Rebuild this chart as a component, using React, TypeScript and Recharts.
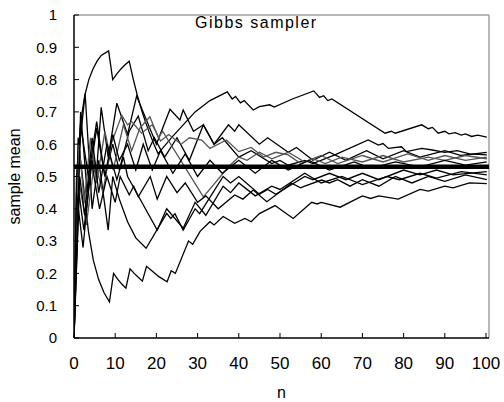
import React from 'react';
import { LineChart, Line, XAxis, YAxis, Label, CartesianGrid } from 'recharts';

type P = [number, number];

const xTicks = [0, 10, 20, 30, 40, 50, 60, 70, 80, 90, 100];
const yTicks = [0, 0.1, 0.2, 0.3, 0.4, 0.5, 0.6, 0.7, 0.8, 0.9, 1];
const yTickLabels = ['0', '0.1', '0.2', '0.3', '0.4', '0.5', '0.6', '0.7', '0.8', '0.9', '1'];
const xMax = 100.73;
const trueMean = 0.53;
const titleText = 'Gibbs sampler';
const xTitle = 'n';
const yTitle = 'sample mean';

const run1: P[] = [[0,0],[0.6,0.5],[1.6,0.667],[2.6,0.75],[3.6,0.8],[4.6,0.833],[5.6,0.857],[6.6,0.875],[8.4,0.889],[9.4,0.8],[10.4,0.818],[11.4,0.833],[12.4,0.846],[13.4,0.857],[14.4,0.8],[15.4,0.75],[16.4,0.706],[17.4,0.667],[18.4,0.632],[19.4,0.6],[20.4,0.571],[24,0.625],[29.4,0.7],[33,0.735],[37.2,0.762],[38.4,0.74],[39.2,0.748],[40.4,0.728],[41.3,0.735],[43.5,0.706],[45,0.716],[47.5,0.722],[48.6,0.715],[53,0.74],[58.2,0.765],[59.6,0.745],[60.6,0.75],[61.6,0.735],[62.6,0.74],[75.5,0.634],[77,0.64],[78,0.634],[84.4,0.66],[86,0.648],[87,0.652],[88.4,0.634],[90,0.64],[91,0.632],[92.5,0.636],[94,0.628],[95,0.632],[96.5,0.624],[98,0.628],[100.2,0.622]];
const run2: P[] = [[0,0],[1,0.62],[1.6,0.55],[2.4,0.46],[3.5,0.33],[4.7,0.24],[6,0.18],[7.3,0.14],[8.6,0.112],[9.6,0.2],[10.6,0.182],[11.6,0.167],[12.6,0.154],[13.6,0.214],[14.6,0.2],[15.6,0.188],[16.6,0.176],[17.6,0.222],[18.6,0.211],[20.6,0.19],[22.6,0.174],[23.6,0.208],[24.6,0.2],[27.8,0.3],[28.8,0.29],[30.6,0.33],[33,0.36],[34,0.35],[36.2,0.376],[39,0.355],[41.5,0.37],[43,0.36],[45,0.385],[48.8,0.41],[53.2,0.37],[57.7,0.42],[59,0.415],[60,0.42],[64.6,0.405],[70,0.44],[72,0.432],[74,0.44],[78.7,0.43],[84,0.46],[86,0.455],[90,0.47],[92,0.465],[96,0.48],[100.2,0.478]];
const run3: P[] = [[0,0],[1,0.55],[2.7,0.757],[4.4,0.4],[6,0.55],[8.3,0.334],[9.4,0.5],[11,0.43],[13,0.36],[15,0.31],[17.5,0.278],[22.5,0.386],[23.5,0.37],[24.5,0.385],[26.5,0.334],[29.4,0.4],[30.5,0.385],[36.2,0.5],[38,0.48],[40,0.5],[45,0.445],[47,0.46],[49,0.445],[56,0.5],[58,0.49],[62,0.51],[66,0.49],[70,0.51],[74,0.49],[80,0.52],[84,0.505],[88,0.52],[92,0.505],[100.2,0.515]];
const run4: P[] = [[0,0],[1.2,0.45],[2.4,0.334],[4.4,0.55],[5.4,0.5],[6.6,0.714],[8.3,0.56],[10.4,0.727],[13,0.63],[15.2,0.749],[20,0.6],[23.3,0.708],[25.7,0.675],[26.5,0.706],[29,0.64],[31.4,0.66],[34,0.6],[37.5,0.66],[39,0.64],[40,0.66],[45,0.6],[47,0.62],[52,0.575],[54,0.59],[58,0.55],[62,0.575],[66,0.55],[71,0.58],[75,0.555],[80,0.58],[84,0.56],[90,0.58],[94,0.565],[100.2,0.575]];
const run5: P[] = [[0,0],[1.6,0.7],[3.2,0.45],[5.5,0.65],[7.5,0.5],[9.4,0.6],[11,0.52],[13.4,0.64],[15.6,0.687],[18,0.58],[19.5,0.62],[22,0.56],[25,0.62],[28,0.55],[31.4,0.66],[34,0.6],[36,0.62],[40,0.56],[43,0.58],[48,0.54],[50,0.55],[52,0.535],[56,0.55],[58,0.54],[63.3,0.567],[71.4,0.613],[73.9,0.597],[75,0.602],[76.3,0.587],[79.5,0.592],[80.7,0.577],[84.4,0.587],[87,0.582],[90,0.575],[93,0.58],[96,0.57],[100.2,0.567]];
const run6: P[] = [[0,0],[1,0.5],[3,0.35],[5,0.55],[7,0.45],[9,0.6],[11.6,0.69],[13,0.66],[14,0.67],[16.4,0.634],[19,0.66],[21,0.61],[23,0.63],[26,0.6],[28,0.62],[31,0.613],[33,0.587],[37,0.613],[40,0.577],[43,0.59],[46,0.56],[49,0.575],[52,0.567],[55,0.54],[58,0.555],[61,0.54],[65,0.56],[70,0.545],[75,0.565],[80,0.545],[86,0.56],[90,0.55],[95,0.565],[100.2,0.555]];
const run7: P[] = [[0,0],[1.2,0.6],[2.5,0.42],[4,0.62],[5.5,0.48],[7.5,0.64],[9.5,0.52],[12,0.66],[14,0.58],[16,0.65],[18.4,0.685],[20.5,0.62],[21.5,0.64],[31.4,0.437],[37.5,0.53],[40,0.56],[42,0.55],[45,0.575],[48,0.555],[52,0.575],[56,0.545],[60,0.565],[64,0.54],[70,0.565],[75,0.545],[81,0.57],[86,0.55],[90,0.565],[95,0.55],[100.2,0.56]];
const run8: P[] = [[0,0],[0.6,0.45],[2.2,0.28],[4.2,0.55],[6.2,0.4],[8,0.5],[10,0.42],[11.2,0.5],[13.4,0.443],[14.5,0.47],[15.6,0.437],[18.5,0.5],[20.2,0.43],[22.5,0.5],[25,0.45],[27,0.48],[30,0.42],[32,0.44],[35,0.4],[39,0.443],[41,0.43],[43.5,0.458],[46.8,0.422],[52.8,0.479],[55,0.465],[56,0.47],[60.1,0.489],[62,0.48],[64,0.49],[67,0.47],[70,0.49],[74,0.47],[78,0.5],[82,0.48],[86,0.5],[90,0.485],[95,0.505],[100.2,0.49]];
const run9: P[] = [[0,0],[1.4,0.5],[2.6,0.38],[4.4,0.62],[6,0.45],[8,0.6],[10.4,0.49],[12,0.56],[13,0.5],[20.2,0.334],[22.5,0.4],[26.5,0.34],[29.4,0.42],[32,0.38],[36.2,0.47],[38,0.45],[40,0.48],[44,0.44],[48,0.47],[50,0.46],[56,0.51],[60,0.48],[65,0.5],[70,0.475],[76,0.5],[79,0.49],[84,0.51],[88,0.495],[94,0.515],[100.2,0.505]];
const run10: P[] = [[0,0],[1.6,0.66],[3.5,0.5],[5.5,0.67],[7.5,0.5],[9.4,0.63],[11,0.55],[13,0.6],[15,0.52],[16.8,0.6],[19,0.52],[21,0.58],[24,0.51],[27,0.57],[30,0.5],[33,0.55],[36,0.51],[40,0.55],[44,0.51],[48,0.55],[52,0.52],[57,0.55],[62,0.52],[68,0.545],[72,0.525],[78,0.545],[84,0.53],[90,0.55],[95,0.535],[100.2,0.545]];
const meanLine: P[] = [[0, trueMean], [xMax, trueMean]];

const runs: { pts: P[]; color: string }[] = [
  { pts: run1, color: '#000' },
  { pts: run2, color: '#000' },
  { pts: run3, color: '#000' },
  { pts: run4, color: '#000' },
  { pts: run5, color: '#000' },
  { pts: run6, color: '#555' },
  { pts: run7, color: '#555' },
  { pts: run8, color: '#000' },
  { pts: run9, color: '#000' },
  { pts: run10, color: '#000' },
];

const rows = (p: P[]) => p.map(([n, v]) => ({ n, v }));
const FONT = '"Liberation Sans", Arial, sans-serif';

export default function App() {
  return (
    <div style={{ position: 'absolute', left: 0, top: 0, width: 504, height: 402, background: '#fff' }}>
      <LineChart width={504} height={402} margin={{ top: 15, right: 15, bottom: 24, left: 14 }}>
        <CartesianGrid horizontalValues={[1]} verticalValues={[xMax]} stroke="#a0a0a0" strokeWidth={1.5} strokeDasharray="" />
        <XAxis
          type="number"
          dataKey="n"
          domain={[0, xMax]}
          ticks={xTicks}
          allowDataOverflow
          height={40}
          tickSize={-5}
          tickMargin={24}
          tick={{ fill: '#000', fontSize: 17, fontFamily: FONT }}
          tickLine={{ stroke: '#000', strokeWidth: 1 }}
          axisLine={{ stroke: '#000', strokeWidth: 1.5 }}
        >
          <Label value={xTitle} position="insideBottom" offset={-20} style={{ fill: '#000', fontSize: 16, fontFamily: FONT }} />
        </XAxis>
        <YAxis
          type="number"
          dataKey="v"
          domain={[0, 1]}
          ticks={yTicks}
          allowDataOverflow
          width={60}
          tickSize={-5}
          tickMargin={22}
          tickFormatter={(v: number) => { const i = yTicks.indexOf(v); return i >= 0 ? yTickLabels[i] : String(v); }}
          tick={{ fill: '#000', fontSize: 15, fontFamily: FONT }}
          tickLine={{ stroke: '#000', strokeWidth: 1 }}
          axisLine={{ stroke: '#000', strokeWidth: 1.5 }}
        >
          <Label value={yTitle} angle={-90} position="insideLeft" offset={0} style={{ fill: '#000', fontSize: 16, fontFamily: FONT, textAnchor: 'middle' }} />
        </YAxis>
        {runs.map((r, i) => (
          <Line
            key={i}
            data={rows(r.pts)}
            dataKey="v"
            type="linear"
            stroke={r.color}
            strokeWidth={1.3}
            dot={false}
            activeDot={false}
            isAnimationActive={false}
          />
        ))}
        <Line data={rows(meanLine)} dataKey="v" type="linear" stroke="#000" strokeWidth={4.5} dot={false} activeDot={false} isAnimationActive={false} />
      </LineChart>
      <div style={{ position: 'absolute', left: 195, top: 14, fontFamily: FONT, fontSize: 16, letterSpacing: 1.5, color: '#000', whiteSpace: 'nowrap' }}>{titleText}</div>
    </div>
  );
}
